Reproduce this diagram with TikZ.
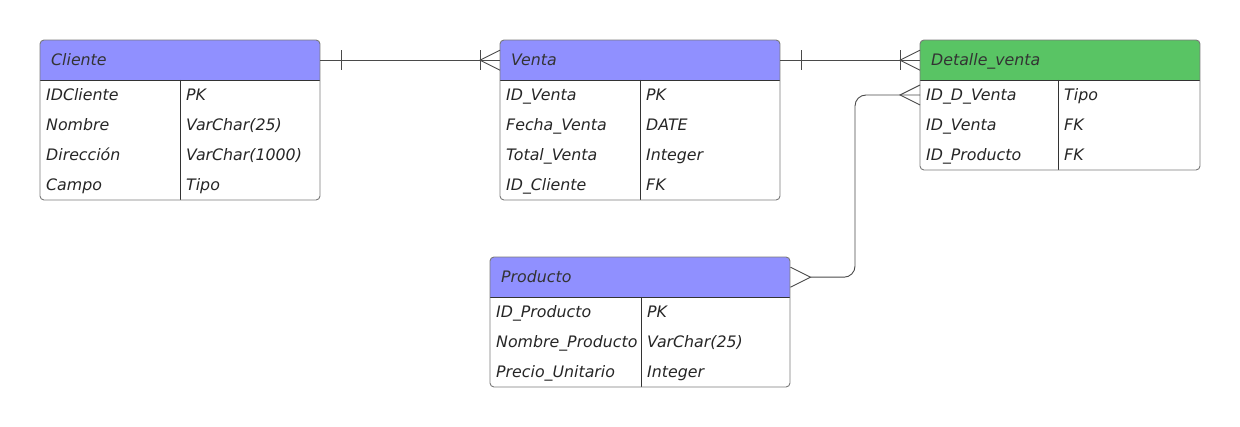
\documentclass[tikz,border=0pt]{standalone}
\usepackage{fontspec}
\setmainfont{DejaVu Sans}
\definecolor{purp}{HTML}{9090FF}
\definecolor{grn}{HTML}{59C464}
\definecolor{bord}{HTML}{7A7A7A}
\definecolor{inner}{HTML}{333333}
\definecolor{conncol}{HTML}{4A4A4A}
\definecolor{txtcol}{HTML}{262626}
\tikzset{
  tbl/.style={draw=bord, rounded corners=4pt, line width=0.9pt},
  tline/.style={draw=inner, line width=0.7pt},
  txt/.style={inner sep=0pt, anchor=west, text height=14.5pt, text depth=3pt,
    font=\fontsize{15.8}{18}\selectfont\itshape, text=txtcol},
  htxt/.style={txt, text=inner},
  conn/.style={draw=conncol, line width=0.9pt},
  hdr/.style={inner sep=0pt, minimum height=40pt}
}
% name, x1, y1, x2, y2, divider x, colour, title
\newcommand\ertbl[8]{%
  \begin{scope}
    \clip[rounded corners=4pt] (#2,#3) rectangle (#4,#5);
    \fill[#7] (#2,#3) rectangle (#4,#3+40);
  \end{scope}
  \draw[tline] (#2,#3+40) -- (#4,#3+40);
  \draw[tline] (#6,#3+40) -- (#6,#5);
  \draw[tbl] (#2,#3) rectangle (#4,#5);
  \node[hdr, minimum width={(#4-#2)*1pt}, anchor=north west] (#1) at (#2,#3) {};
  \node[htxt] (#1title) at (#2+11,#3+20) {#8};
}
\newcommand\errow[7]{% prefix, index, x1, divx, y, left, right
  \node[txt] (#1l#2) at (#3+6,#5) {#6};
  \node[txt] (#1r#2) at (#4+6,#5) {#7};
}
\begin{document}
\begin{tikzpicture}[x=1pt,y=-1pt]
\useasboundingbox[fill=white] (0,0) rectangle (1240,427);

\ertbl{cliente}{40}{40}{320}{200}{180}{purp}{Cliente}
\errow{c}{1}{40}{180}{95}{IDCliente}{PK}
\errow{c}{2}{40}{180}{125}{Nombre}{VarChar(25)}
\errow{c}{3}{40}{180}{155}{Dirección}{VarChar(1000)}
\errow{c}{4}{40}{180}{185}{Campo}{Tipo}

\ertbl{venta}{500}{40}{780}{200}{640}{purp}{Venta}
\errow{v}{1}{500}{640}{95}{ID\_Venta}{PK}
\errow{v}{2}{500}{640}{125}{Fecha\_Venta}{DATE}
\errow{v}{3}{500}{640}{155}{Total\_Venta}{Integer}
\errow{v}{4}{500}{640}{185}{ID\_Cliente}{FK}

\ertbl{detalle}{920}{40}{1200}{170}{1058}{grn}{Detalle\_venta}
\errow{d}{1}{920}{1058}{95}{ID\_D\_Venta}{Tipo}
\errow{d}{2}{920}{1058}{125}{ID\_Venta}{FK}
\errow{d}{3}{920}{1058}{155}{ID\_Producto}{FK}

\ertbl{producto}{490}{257}{790}{387}{641}{purp}{Producto}
\errow{p}{1}{490}{641}{312}{ID\_Producto}{PK}
\errow{p}{2}{490}{641}{342}{Nombre\_Producto}{VarChar(25)}
\errow{p}{3}{490}{641}{372}{Precio\_Unitario}{Integer}

\coordinate (drow1) at (920,95);

% Cliente -- Venta
\draw[conn] (cliente.east) -- (venta.west);
\draw[conn] ([xshift=21pt,yshift=10pt]cliente.east) -- ([xshift=21pt,yshift=-10pt]cliente.east);
\draw[conn] ([xshift=-20pt,yshift=10pt]venta.west) -- ([xshift=-20pt,yshift=-10pt]venta.west);
\draw[conn] ([yshift=10pt]venta.west) -- ([xshift=-20pt]venta.west) -- ([yshift=-10pt]venta.west);

% Venta -- Detalle
\draw[conn] (venta.east) -- (detalle.west);
\draw[conn] ([xshift=21pt,yshift=10pt]venta.east) -- ([xshift=21pt,yshift=-10pt]venta.east);
\draw[conn] ([xshift=-20pt,yshift=10pt]detalle.west) -- ([xshift=-20pt,yshift=-10pt]detalle.west);
\draw[conn] ([yshift=10pt]detalle.west) -- ([xshift=-20pt]detalle.west) -- ([yshift=-10pt]detalle.west);

% Producto -- Detalle (ID_D_Venta)
\draw[conn, rounded corners=11pt] ([xshift=20pt]producto.east) -| ([xshift=-65pt]drow1) -- (drow1);
\draw[conn] ([yshift=10pt]producto.east) -- ([xshift=20pt]producto.east) -- ([yshift=-10pt]producto.east);
\draw[conn] ([yshift=10pt]drow1) -- ([xshift=-20pt]drow1) -- ([yshift=-10pt]drow1);
\end{tikzpicture}
\end{document}
